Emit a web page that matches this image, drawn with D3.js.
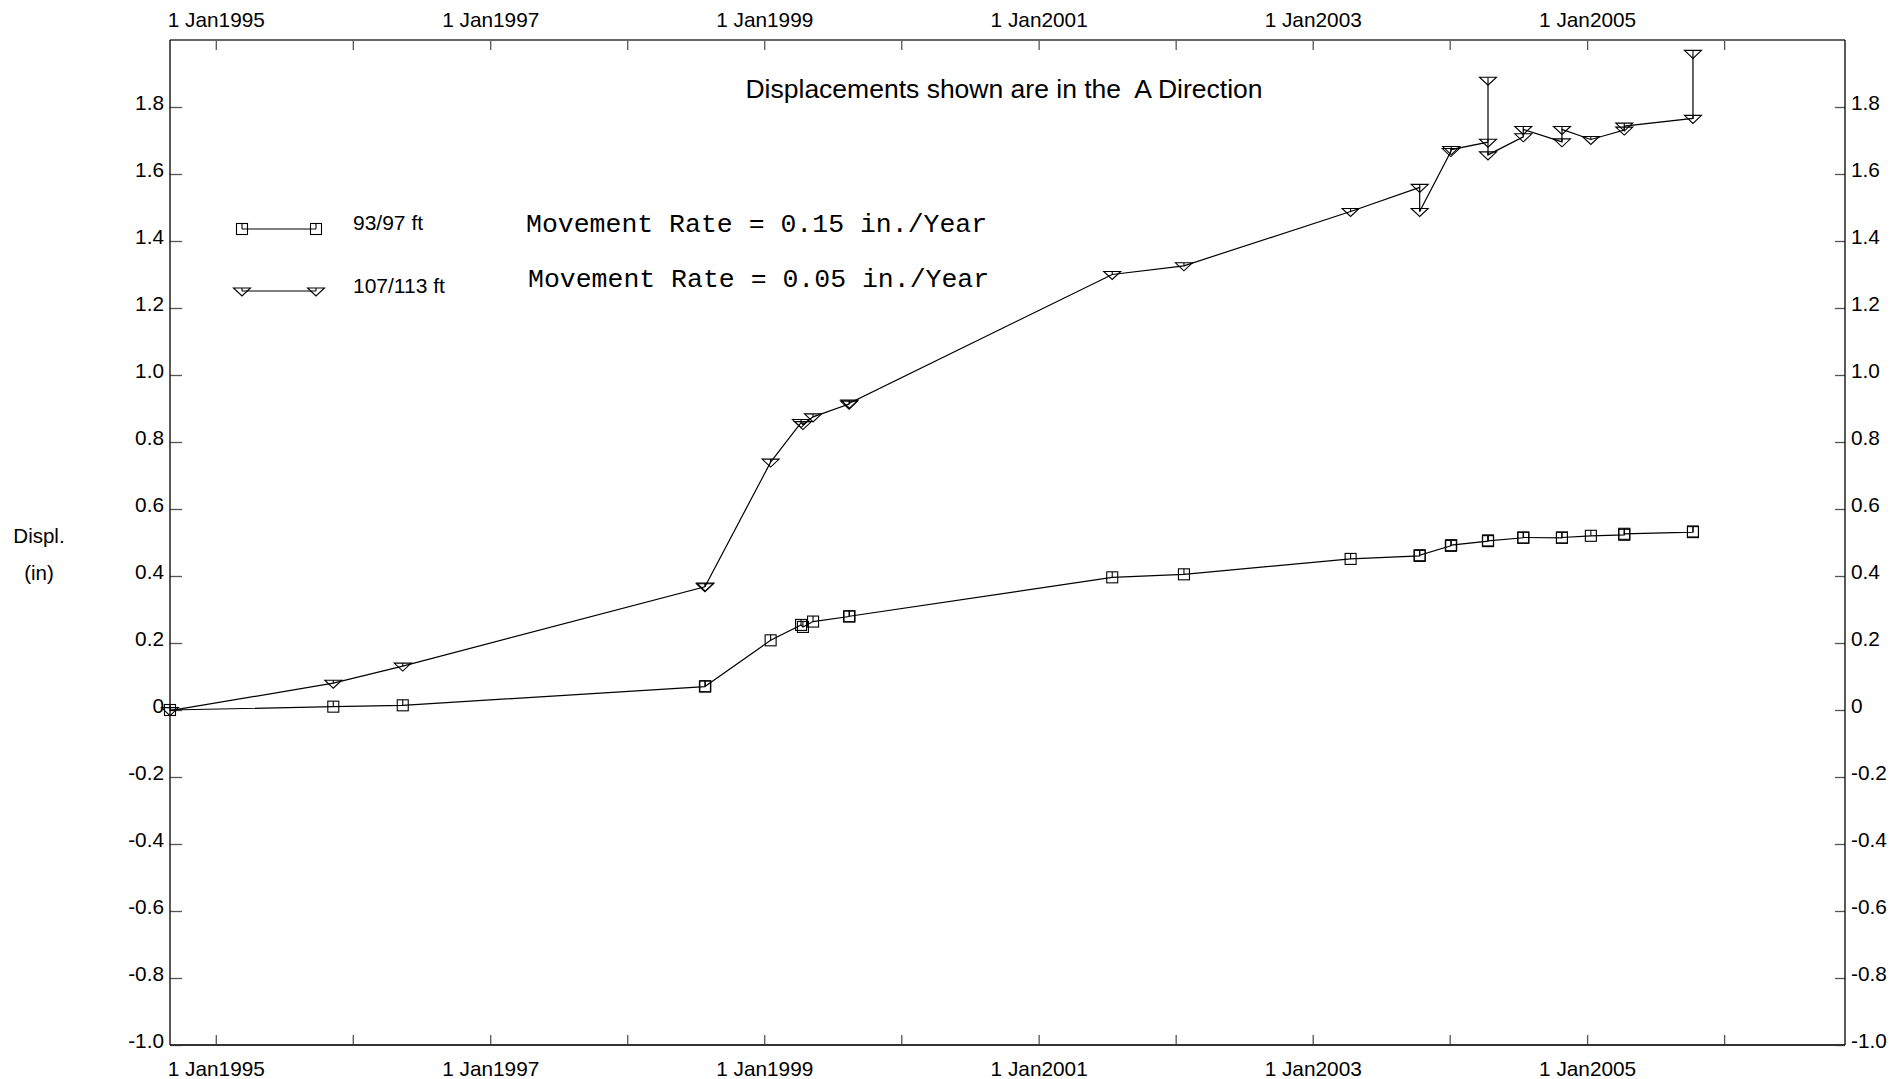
<!DOCTYPE html>
<html>
<head>
<meta charset="utf-8">
<script src="https://cdn.jsdelivr.net/npm/d3@7"></script>
<style>
  html, body { margin: 0; padding: 0; background: #fff; }
  svg { display: block; }
  text { font-family: "Liberation Sans", Arial, sans-serif; fill: #000; }
  .mono { font-family: "Liberation Mono", "Courier New", monospace; }
</style>
</head>
<body>
<svg id="chart" width="1893" height="1079"></svg>
<script>
// ---- data ----
const readingDates = [
  "1994-09-01", "1995-11-10", "1996-05-13", "1998-07-27", "1998-07-28",
  "1999-01-18", "1999-04-09", "1999-04-14", "1999-05-11", "1999-08-15",
  "1999-08-16", "2001-07-16", "2002-01-23", "2003-04-12", "2003-10-13",
  "2003-10-13", "2004-01-04", "2004-01-05", "2004-04-12", "2004-04-12",
  "2004-04-12", "2004-07-15", "2004-07-15", "2004-10-26", "2004-10-26",
  "2005-01-11", "2005-04-10", "2005-04-10", "2005-10-10", "2005-10-10"
];
const series9397 = [
  0.000, 0.010, 0.014, 0.070, 0.071,
  0.208, 0.254, 0.248, 0.264, 0.279,
  0.280, 0.396, 0.405, 0.451, 0.460,
  0.462, 0.490, 0.492, 0.504, 0.506,
  0.505, 0.514, 0.515, 0.514, 0.515,
  0.520, 0.523, 0.526, 0.531, 0.533
];
const series107113 = [
  -0.002, 0.080, 0.131, 0.368, 0.370,
  0.740, 0.858, 0.852, 0.875, 0.913,
  0.916, 1.300, 1.326, 1.488, 1.560,
  1.488, 1.667, 1.673, 1.695, 1.880,
  1.657, 1.711, 1.733, 1.696, 1.733,
  1.703, 1.731, 1.743, 1.766, 1.960
];
const seriesNames = ["93/97 ft", "107/113 ft"];
const rateLabels = ["Movement Rate = 0.15 in./Year", "Movement Rate = 0.05 in./Year"];
const yTickValues = [-1.0, -0.8, -0.6, -0.4, -0.2, 0, 0.2, 0.4, 0.6, 0.8, 1.0, 1.2, 1.4, 1.6, 1.8];
const xDomain = ["1994-09-01", "2006-11-19"];
const yDomain = [-1.0, 2.0];
const titleText = "Displacements shown are in the  A Direction";
const yLabelLines = ["Displ.", "(in)"];

// ---- layout ----
const L = 170, R = 1845, T = 40, B = 1045;
const parse = d3.timeParse("%Y-%m-%d");
const svg = d3.select("#chart");

const x = d3.scaleTime().domain(xDomain.map(parse)).range([L, R]);
const y = d3.scaleLinear().domain(yDomain).range([B, T]);

const tickColor = "#555";
const years = d3.timeYear.range(new Date(1995, 0, 1), new Date(2007, 0, 1));
const xFmt = d => (d.getFullYear() % 2 === 1) ? "1 Jan" + d.getFullYear() : "";
const yFmt = v => Math.abs(v) < 1e-9 ? "0" : (v < 0 ? "-" : "") + Math.abs(v).toFixed(1);

// axes
const gTop = svg.append("g").attr("transform", `translate(0,${T})`)
  .call(d3.axisTop(x).tickValues(years).tickFormat(xFmt).tickSizeInner(-10).tickSizeOuter(0).tickPadding(13));
const gBot = svg.append("g").attr("transform", `translate(0,${B})`)
  .call(d3.axisBottom(x).tickValues(years).tickFormat(xFmt).tickSizeInner(-10).tickSizeOuter(0).tickPadding(16));
const gLeft = svg.append("g").attr("transform", `translate(${L},0)`)
  .call(d3.axisLeft(y).tickValues(yTickValues).tickFormat(yFmt).tickSizeInner(-12).tickSizeOuter(0).tickPadding(6));
const gRight = svg.append("g").attr("transform", `translate(${R},0)`)
  .call(d3.axisRight(y).tickValues(yTickValues).tickFormat(yFmt).tickSizeInner(-10).tickSizeOuter(0).tickPadding(6));

[gTop, gBot, gLeft, gRight].forEach(g => {
  g.select(".domain").remove();
  g.selectAll(".tick line").attr("stroke", tickColor).attr("stroke-width", 1.3);
  g.selectAll(".tick text").style("font-family", "'Liberation Sans', Arial, sans-serif")
    .style("font-size", "20.8px").attr("fill", "#000");
});
gLeft.selectAll(".tick text").attr("dy", "0.1em");
gRight.selectAll(".tick text").attr("dy", "0.1em");

// frame
svg.append("line").attr("x1", L).attr("x2", R).attr("y1", T).attr("y2", T)
  .attr("stroke", "#666").attr("stroke-width", 2);
svg.append("line").attr("x1", L).attr("x2", R).attr("y1", B).attr("y2", B)
  .attr("stroke", "#333").attr("stroke-width", 2);
svg.append("line").attr("x1", L).attr("x2", L).attr("y1", T).attr("y2", B)
  .attr("stroke", "#000").attr("stroke-width", 1.3);
svg.append("line").attr("x1", R).attr("x2", R).attr("y1", T).attr("y2", B)
  .attr("stroke", "#000").attr("stroke-width", 1.3);

// title
svg.append("text").attr("x", 1004).attr("y", 98).attr("text-anchor", "middle")
  .attr("xml:space", "preserve").style("white-space", "pre")
  .style("font-size", "26.5px").text(titleText);

// y label
svg.append("text").attr("x", 39).attr("y", 543).attr("text-anchor", "middle")
  .style("font-size", "20.5px").text(yLabelLines[0]);
svg.append("text").attr("x", 39).attr("y", 580).attr("text-anchor", "middle")
  .style("font-size", "20.5px").text(yLabelLines[1]);

// markers
function squareMarker(g, cx, cy) {
  const s = 5.5;
  g.append("rect").attr("x", cx - s).attr("y", cy - s).attr("width", 2 * s).attr("height", 2 * s)
    .attr("fill", "none").attr("stroke", "#000").attr("stroke-width", 1.1);
  g.append("line").attr("x1", cx).attr("x2", cx).attr("y1", cy - s).attr("y2", cy)
    .attr("stroke", "#000").attr("stroke-width", 1.1);
}
function triMarker(g, cx, cy) {
  const w = 8.5, top = cy - 3, apex = cy + 5;
  g.append("path").attr("d", `M${cx - w},${top}L${cx + w},${top}L${cx},${apex}Z`)
    .attr("fill", "none").attr("stroke", "#000").attr("stroke-width", 1.1);
  g.append("line").attr("x1", cx).attr("x2", cx).attr("y1", top).attr("y2", cy)
    .attr("stroke", "#000").attr("stroke-width", 1.1);
}

const line = d3.line().x(d => x(d.date)).y(d => y(d.v));
const seriesList = [
  { values: series9397, marker: squareMarker },
  { values: series107113, marker: triMarker }
];
const plot = svg.append("g");
seriesList.forEach(s => {
  const pts = readingDates.map((d, i) => ({ date: parse(d), v: s.values[i] }));
  plot.append("path").datum(pts).attr("d", line)
    .attr("fill", "none").attr("stroke", "#000").attr("stroke-width", 1.2);
  const mg = plot.append("g");
  pts.forEach(p => s.marker(mg, x(p.date), y(p.v)));
});

// legend
const legY = [229, 291];
const legMarkers = [squareMarker, triMarker];
const lg = svg.append("g");
seriesNames.forEach((name, i) => {
  lg.append("line").attr("x1", 242).attr("x2", 316).attr("y1", legY[i]).attr("y2", legY[i])
    .attr("stroke", "#000").attr("stroke-width", 1.2);
  legMarkers[i](lg, 242, legY[i]);
  legMarkers[i](lg, 316, legY[i]);
  lg.append("text").attr("x", 353).attr("y", legY[i] + 1 + (i ? 1 : 0))
    .style("font-size", "21px").text(name);
});

// movement rate notes
svg.append("text").attr("class", "mono").attr("x", 526).attr("y", 232)
  .style("font-size", "26.5px").text(rateLabels[0]);
svg.append("text").attr("class", "mono").attr("x", 528).attr("y", 287)
  .style("font-size", "26.5px").text(rateLabels[1]);
</script>
</body>
</html>
